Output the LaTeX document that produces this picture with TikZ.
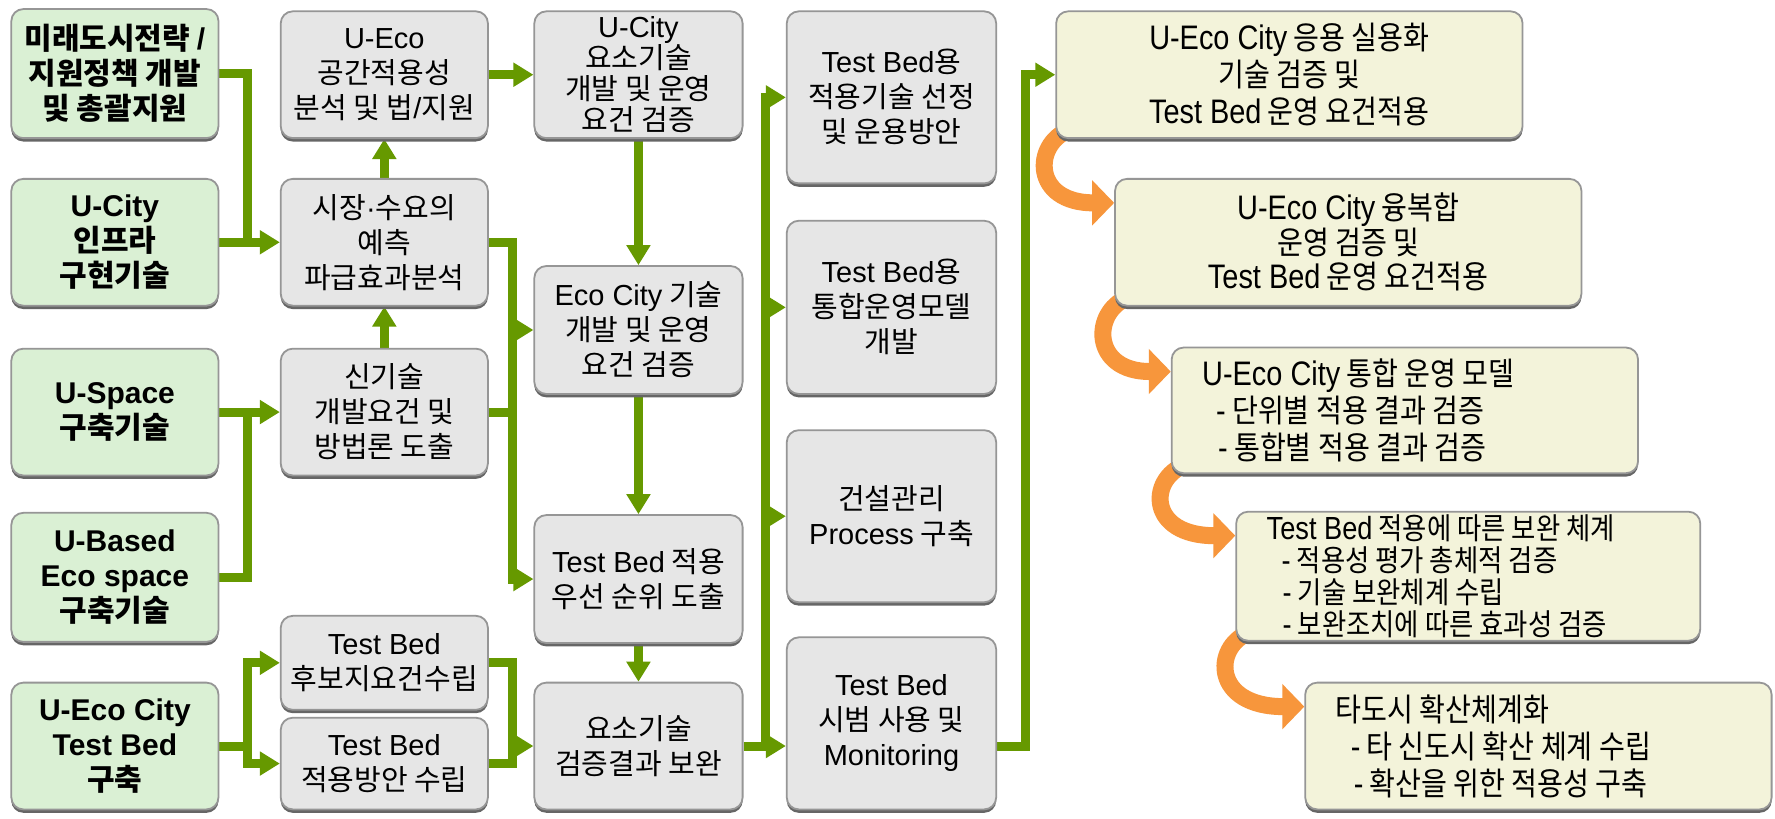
\documentclass[tikz,border=0pt]{standalone}
\usepackage{fontspec}
\setmainfont{Noto Sans CJK KR}
\newfontfamily\condfont[FakeStretch=0.88]{Noto Sans CJK KR}
\newfontfamily\latfont{Liberation Sans}
\newfontfamily\clatfont[FakeStretch=0.85]{Liberation Sans}
\usetikzlibrary{arrows.meta,shadows,calc}
\pgfdeclarelayer{bg}
\pgfsetlayers{bg,main}
\definecolor{gline}{RGB}{102,153,0}
\definecolor{oline}{RGB}{247,150,60}
\definecolor{gfill}{RGB}{218,240,212}
\definecolor{pfill}{RGB}{230,230,230}
\definecolor{yfill}{RGB}{243,243,218}
\definecolor{bord}{RGB}{150,150,150}
\newlength\lnwidth
\def\latsz{14.5}
\let\curlat\latfont
\newcommand\lat[1]{{\curlat\fontsize{\latsz}{\the\baselineskip}\selectfont #1}}
\newcommand\lnx[1]{\hbox to \lnwidth{#1\hfil}}
\newcommand\bx[7]{\node[#2, minimum width={(#5-#3)*0.566pt}, minimum height={(#6-#4)*0.566pt}] (#1) at ({(#3+#5)/2},{(#4+#6)/2}) {#7};}
\newcommand\lbx[7]{\node[#2, minimum width={(#5-#3)*0.566pt}, minimum height={(#6-#4)*0.566pt}] (#1) at ({(#3+#5)/2},{(#4+#6)/2}) {\pgfmathsetlength\lnwidth{(#5-#3-54)*0.566pt}\vbox{#7}};}
\tikzset{
 boxbase/.style={draw=bord, line width=0.9pt, rounded corners=6pt, inner sep=0pt, align=center,
   drop shadow={shadow xshift=0pt, shadow yshift=-1.7pt, fill=black!60, opacity=1}},
 gbox/.style={boxbase, fill=gfill, font=\bfseries\fontsize{15}{17.5}\selectfont\def\latsz{15}\let\curlat\latfont},
 pbox/.style={boxbase, fill=pfill, font=\fontsize{14.5}{17.5}\selectfont\def\latsz{14.5}\let\curlat\latfont},
 ybox/.style={boxbase, fill=yfill, font=\condfont\fontsize{16}{18.5}\selectfont\def\latsz{17}\let\curlat\clatfont},
 gconn/.style={draw=gline, line width=4.5pt},
 garrow/.style={gconn, -{Triangle[length=10pt,width=11.5pt]}},
 oarrow/.style={draw=oline, line width=8.5pt, -{Triangle[length=11pt,width=22pt]}},
}
\begin{document}
\begin{tikzpicture}[x=0.566pt,y=-0.566pt]
\useasboundingbox (0,0) rectangle (1568,723);
% left column
\bx{A}{gbox}{10}{8}{193}{122}{미래도시전략 \lat{/}\\지원정책 개발\\및 총괄지원}
\bx{B}{gbox}{10}{158}{193}{270}{\lat{U-City}\\인프라\\구현기술}
\bx{C}{gbox}{10}{308}{193}{420}{\lat{U-Space}\\구축기술}
\bx{D}{gbox}{10}{453}{193}{567}{\lat{U-Based}\\\lat{Eco space}\\구축기술}
\bx{E}{gbox}{10}{603}{193}{715}{\lat{U-Eco City}\\\lat{Test Bed}\\구축}
% column 2
\bx{P1}{pbox}{248}{10}{431}{122}{\lat{U-Eco}\\공간적용성\\분석 및 법\lat{/}지원}
\bx{P2}{pbox}{248}{158}{431}{270}{시장\lat{·}수요의\\예측\\파급효과분석}
\bx{P3}{pbox}{248}{308}{431}{420}{신기술\\개발요건 및\\방법론 도출}
\bx{P4}{pbox}{248}{544}{431}{627}{\lat{Test Bed}\\후보지요건수립}
\bx{P5}{pbox}{248}{634}{431}{715}{\lat{Test Bed}\\적용방안 수립}
% column 3
\bx{Q1}{pbox, font=\fontsize{14.5}{15.4}\selectfont\def\latsz{14.5}\let\curlat\latfont}{472}{10}{656}{122}{\lat{U-City}\\요소기술\\개발 및 운영\\요건 검증}
\bx{Q2}{pbox}{472}{235}{656}{348}{\lat{Eco City} 기술\\개발 및 운영\\요건 검증}
\bx{Q3}{pbox}{472}{455}{656}{568}{\lat{Test Bed} 적용\\우선 순위 도출}
\bx{Q4}{pbox}{472}{603}{656}{715}{요소기술\\검증결과 보완}
% column 4
\bx{S1}{pbox}{695}{10}{880}{162}{\lat{Test Bed}용\\적용기술 선정\\및 운용방안}
\bx{S2}{pbox}{695}{195}{880}{348}{\lat{Test Bed}용\\통합운영모델\\개발}
\bx{S3}{pbox}{695}{380}{880}{532}{건설관리\\\lat{Process} 구축}
\bx{S4}{pbox}{695}{563}{880}{715}{\lat{Test Bed}\\시범 사용 및\\\lat{Monitoring}}
% right column
\bx{R1}{ybox}{933}{10}{1345}{122}{\lat{U-Eco City} 응용 실용화\\기술 검증 및\\\lat{Test Bed} 운영 요건적용}
\bx{R2}{ybox, font=\condfont\fontsize{16}{17.2}\selectfont\def\latsz{17}\let\curlat\clatfont}{985}{158}{1397}{270}{\lat{U-Eco City} 융복합\\운영 검증 및\\\lat{Test Bed} 운영 요건적용}
\lbx{R3}{ybox}{1035}{307}{1447}{418}{\lnx{\lat{U-Eco City} 통합 운영 모델}\lnx{\hspace*{7pt}\lat{-} 단위별 적용 결과 검증}\lnx{\hspace*{8pt}\lat{-} 통합별 적용 결과 검증}}
\lbx{R4}{ybox, font=\condfont\fontsize{15}{15.9}\selectfont\def\latsz{16}\let\curlat\clatfont}{1092}{452}{1502}{566}{\lnx{\lat{Test Bed} 적용에 따른 보완 체계}\lnx{\hspace*{7.5pt}\lat{-} 적용성 평가 총체적 검증}\lnx{\hspace*{8pt}\lat{-} 기술 보완체계 수립}\lnx{\hspace*{8pt}\lat{-} 보완조치에 따른 효과성 검증}}
\lbx{R5}{ybox}{1153}{603}{1565}{715}{\lnx{타도시 확산체계화}\lnx{\hspace*{7.5pt}\lat{-} 타 신도시 확산 체계 수립}\lnx{\hspace*{9pt}\lat{-} 확산을 위한 적용성 구축}}

\begin{pgfonlayer}{bg}
\fill[white] (0,0) rectangle (1568,723);
% left bars
\draw[garrow] (A.east) -- ++(25,0) coordinate (j1) |- (P2.west);
\draw[gconn] (B.east) -- (B.east -| j1);
\draw[garrow] (D.east) -- ++(25,0) coordinate (j3) |- (P3.west);
\draw[gconn] (C.east) -- (C.east -| j3);
\draw[garrow] (E.east) -- ++(25,0) coordinate (j4) |- (P4.west);
\draw[garrow] (j4) |- (P5.west);
% column 2
\draw[garrow] (P2.north) -- (P1.south);
\draw[garrow] (P3.north) -- (P2.south);
\draw[garrow] (P1.east) -- (Q1.west);
\draw[garrow] (P2.east) -- ++(21,0) coordinate (j2) |- (Q3.west);
\draw[garrow] (j2) |- (Q2.west);
\draw[gconn] (P3.east) -- (P3.east -| j2);
\draw[gconn] (P4.east) -- ++(21,0) coordinate (j5) |- (P5.east);
\draw[garrow] (j5 |- Q4.west) -- (Q4.west);
% column 3
\draw[garrow] (Q1.south) -- (Q2.north);
\draw[garrow] (Q2.south) -- (Q3.north);
\draw[garrow] (Q3.south) -- (Q4.north);
\draw[garrow] (Q4.east) -- (Q4.east -| S4.west);
\draw[garrow] (Q4.east) -- ++(19,0) coordinate (j6) |- (S1.west);
\draw[garrow] (j6) |- (S2.west);
\draw[garrow] (j6) |- (S3.west);
% column 4 to right
\draw[garrow] (S4.east |- Q4.east) -- ++(25,0) |- (R1.west);
% orange arrows
\foreach \a/\b in {R1/R2,R2/R3,R3/R4,R4/R5}{
  \coordinate (os) at ([shift={(12,-8)}]\a.south west);
  \coordinate (oc) at ([shift={(-20,5)}]\a.south west);
  \coordinate (oe) at ([shift={(0,22)}]\b.north west);
  \coordinate (ox) at ([shift={(-20,0)}]\a.south west);
  \draw[oarrow] (os) .. controls (oc) and (ox |- oe) .. (oe);
}
\end{pgfonlayer}
\end{tikzpicture}
\end{document}
